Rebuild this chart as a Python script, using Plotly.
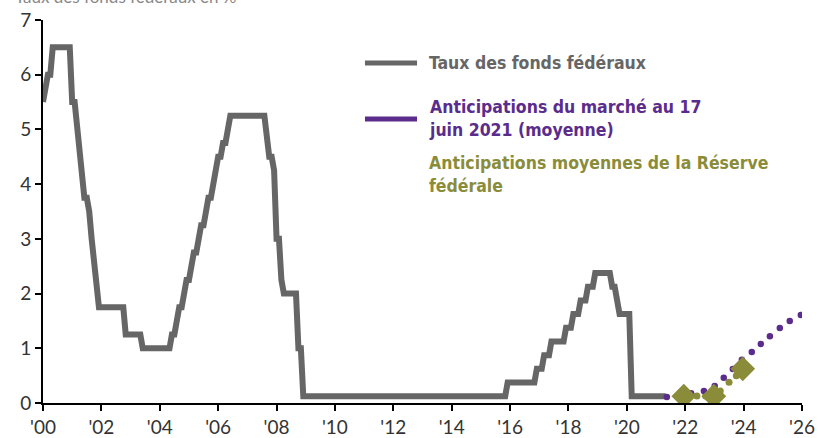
import plotly.graph_objects as go

# Fed funds rate (monthly vertices, YYYY-MM -> level %)
ff_months = ["2000-01","2000-02","2000-03","2000-04","2000-05","2000-12","2001-01","2001-02","2001-03","2001-04",
             "2001-05","2001-06","2001-07","2001-08","2001-09","2001-10","2001-11","2001-12","2002-10","2002-11",
             "2003-05","2003-06","2004-05","2004-06","2004-07","2004-08","2004-09","2004-10","2004-11","2004-12",
             "2005-01","2005-02","2005-03","2005-04","2005-05","2005-06","2005-07","2005-08","2005-09","2005-10",
             "2005-11","2005-12","2006-01","2006-02","2006-03","2006-04","2006-05","2006-06","2007-08","2007-09",
             "2007-10","2007-11","2007-12","2008-01","2008-02","2008-03","2008-04","2008-09","2008-10","2008-11",
             "2008-12","2015-11","2015-12","2016-11","2016-12","2017-02","2017-03","2017-05","2017-06","2017-11",
             "2017-12","2018-02","2018-03","2018-05","2018-06","2018-08","2018-09","2018-11","2018-12","2019-06",
             "2019-07","2019-08","2019-09","2019-10","2020-02","2020-03","2021-05"]
ff_values = [5.5,5.75,6.0,6.0,6.5,6.5,5.5,5.5,5.0,4.5,
             4.0,3.75,3.75,3.5,3.0,2.5,2.0,1.75,1.75,1.25,
             1.25,1.0,1.0,1.25,1.25,1.5,1.75,1.75,2.0,2.25,
             2.25,2.5,2.75,2.75,3.0,3.25,3.25,3.5,3.75,3.75,
             4.0,4.25,4.5,4.5,4.75,4.75,5.0,5.25,5.25,4.75,
             4.5,4.5,4.25,3.0,3.0,2.25,2.0,2.0,1.0,1.0,
             0.125,0.125,0.375,0.375,0.625,0.625,0.875,0.875,1.125,1.125,
             1.375,1.375,1.625,1.625,1.875,1.875,2.125,2.125,2.375,2.375,
             2.125,2.125,1.875,1.625,1.625,0.125,0.125]

# Market expectations, 17 June 2021 (mean)
mkt_x = [2021.37, 2021.75, 2022.2, 2022.64, 2023.01, 2023.32, 2023.63, 2023.94, 2024.28,
         2024.59, 2024.9, 2025.24, 2025.58, 2025.96]
mkt_y = [0.11, 0.12, 0.18, 0.22, 0.31, 0.46, 0.62, 0.79, 0.93, 1.08, 1.22, 1.37, 1.50, 1.61]

# Fed median expectations (SEP)
fed_x = [2021.95, 2022.98, 2023.97]
fed_y = [0.125, 0.125, 0.625]
fed_path_x = [2022.4, 2022.7, 2023.2, 2023.5, 2023.75]
fed_path_y = [0.13, 0.13, 0.22, 0.38, 0.50]

tick_vals = list(range(2000, 2027, 2))
tick_text = ["'00","'02","'04","'06","'08","'10","'12","'14","'16","'18","'20","'22","'24","'26"]

GRAY = "#666666"
PURPLE = "#5b2c8c"
GREEN = "#8a8c3a"

ff_x = [int(m[:4]) + (int(m[5:]) - 1) / 12 for m in ff_months]

fig = go.Figure()
fig.add_trace(go.Scatter(x=ff_x, y=ff_values, mode="lines",
                         line=dict(color=GRAY, width=6), showlegend=False))
fig.add_trace(go.Scatter(x=fed_path_x, y=fed_path_y, mode="markers",
                         marker=dict(color=GREEN, size=7), showlegend=False))
fig.add_trace(go.Scatter(x=mkt_x, y=mkt_y, mode="markers",
                         marker=dict(color=PURPLE, size=6.5), showlegend=False))
fig.add_trace(go.Scatter(x=fed_x, y=fed_y, mode="markers",
                         marker=dict(color=GREEN, size=19, symbol="diamond"), showlegend=False))

tickfont = dict(family="Lato", size=19, color="#333333")
fig.update_xaxes(range=[2000, 2026], tickvals=tick_vals, ticktext=tick_text, automargin=False,
                 showgrid=False, zeroline=False, showline=True, linecolor="black", linewidth=2,
                 ticks="outside", ticklen=6, tickwidth=2, tickcolor="black", tickfont=tickfont)
fig.update_yaxes(range=[0, 7], dtick=1, showgrid=False, zeroline=False, automargin=False,
                 showline=True, linecolor="black", linewidth=2,
                 ticks="outside", ticklen=6, tickwidth=2, tickcolor="black", tickfont=tickfont)

legfont = "DejaVu Sans Condensed, Roboto, sans-serif"
fig.add_shape(type="line", xref="paper", yref="paper", x0=0.4242, x1=0.4928, y0=0.8877, y1=0.8877,
              line=dict(color=GRAY, width=5))
fig.add_shape(type="line", xref="paper", yref="paper", x0=0.4242, x1=0.4928, y0=0.7415, y1=0.7415,
              line=dict(color=PURPLE, width=5))
fig.add_annotation(xref="paper", yref="paper", x=0.5059, y=0.888, xanchor="left", yanchor="middle",
                   text="<b>Taux des fonds fédéraux</b>", showarrow=False, align="left",
                   font=dict(family=legfont, size=17.5, color=GRAY))
fig.add_annotation(xref="paper", yref="paper", x=0.5059, y=0.744, xanchor="left", yanchor="middle",
                   text="<b>Anticipations du marché au 17<br>juin 2021 (moyenne)</b>", showarrow=False, align="left",
                   font=dict(family=legfont, size=17.5, color=PURPLE))
fig.add_annotation(xref="paper", yref="paper", x=0.5059, y=0.597, xanchor="left", yanchor="middle",
                   text="<b>Anticipations moyennes de la Réserve<br>fédérale</b>", showarrow=False, align="left",
                   font=dict(family=legfont, size=17.5, color=GREEN))
fig.add_annotation(xref="paper", yref="paper", x=-0.04, y=1.030, xanchor="left", yanchor="bottom",
                   text="Taux des fonds fédéraux en %", showarrow=False,
                   font=dict(family="Lato", size=17, color="#888888"))

fig.update_layout(width=818, height=438, margin=dict(l=43, r=16, t=20, b=35),
                  paper_bgcolor="white", plot_bgcolor="white")
fig.write_html("out.html", config={"displayModeBar": False},
               post_script="document.body.style.margin='0px';")
